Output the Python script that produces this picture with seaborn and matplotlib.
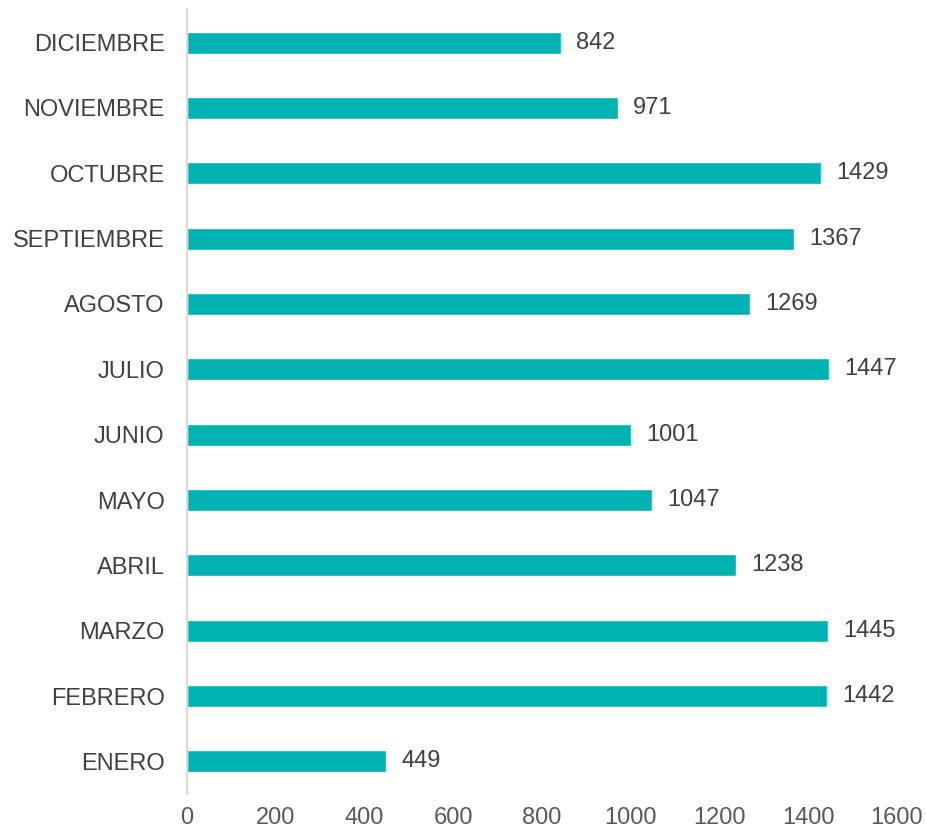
import pandas as pd
import matplotlib.pyplot as plt
import seaborn as sns

# Data
months = ['ENERO', 'FEBRERO', 'MARZO', 'ABRIL', 'MAYO', 'JUNIO',
          'JULIO', 'AGOSTO', 'SEPTIEMBRE', 'OCTUBRE', 'NOVIEMBRE', 'DICIEMBRE']
values = [449, 1442, 1445, 1238, 1047, 1001, 1447, 1269, 1367, 1429, 971, 842]
x_ticks = [0, 200, 400, 600, 800, 1000, 1200, 1400, 1600]

df = pd.DataFrame({'mes': months, 'valor': values})

sns.set_style('white')
plt.rcParams['font.family'] = ['Liberation Sans', 'DejaVu Sans']

fig = plt.figure(figsize=(9.26, 8.31), dpi=100)
ax = fig.add_axes([0.2019, 0.0445, 0.7667, 0.9435])

sns.barplot(data=df, x='valor', y='mes', order=months[::-1],
            color='#00B2B2', saturation=1, width=0.34, ax=ax)

ax.bar_label(ax.containers[0], labels=[str(v) for v in values[::-1]],
             padding=11, fontsize=17, color='#404040')

ax.set_xlim(0, 1600)
ax.set_ylim(11.5, -0.5)
ax.set_xticks(x_ticks)
ax.set_xlabel('')
ax.set_ylabel('')
ax.tick_params(axis='x', length=0, pad=9, labelsize=17, labelcolor='#595959')
ax.tick_params(axis='y', length=0, pad=16, labelsize=17, labelcolor='#404040')

for s in ['top', 'right', 'bottom']:
    ax.spines[s].set_visible(False)
ax.spines['left'].set_color('#D9D9D9')
ax.spines['left'].set_linewidth(1.5)

fig.savefig('out.png', dpi=100)
